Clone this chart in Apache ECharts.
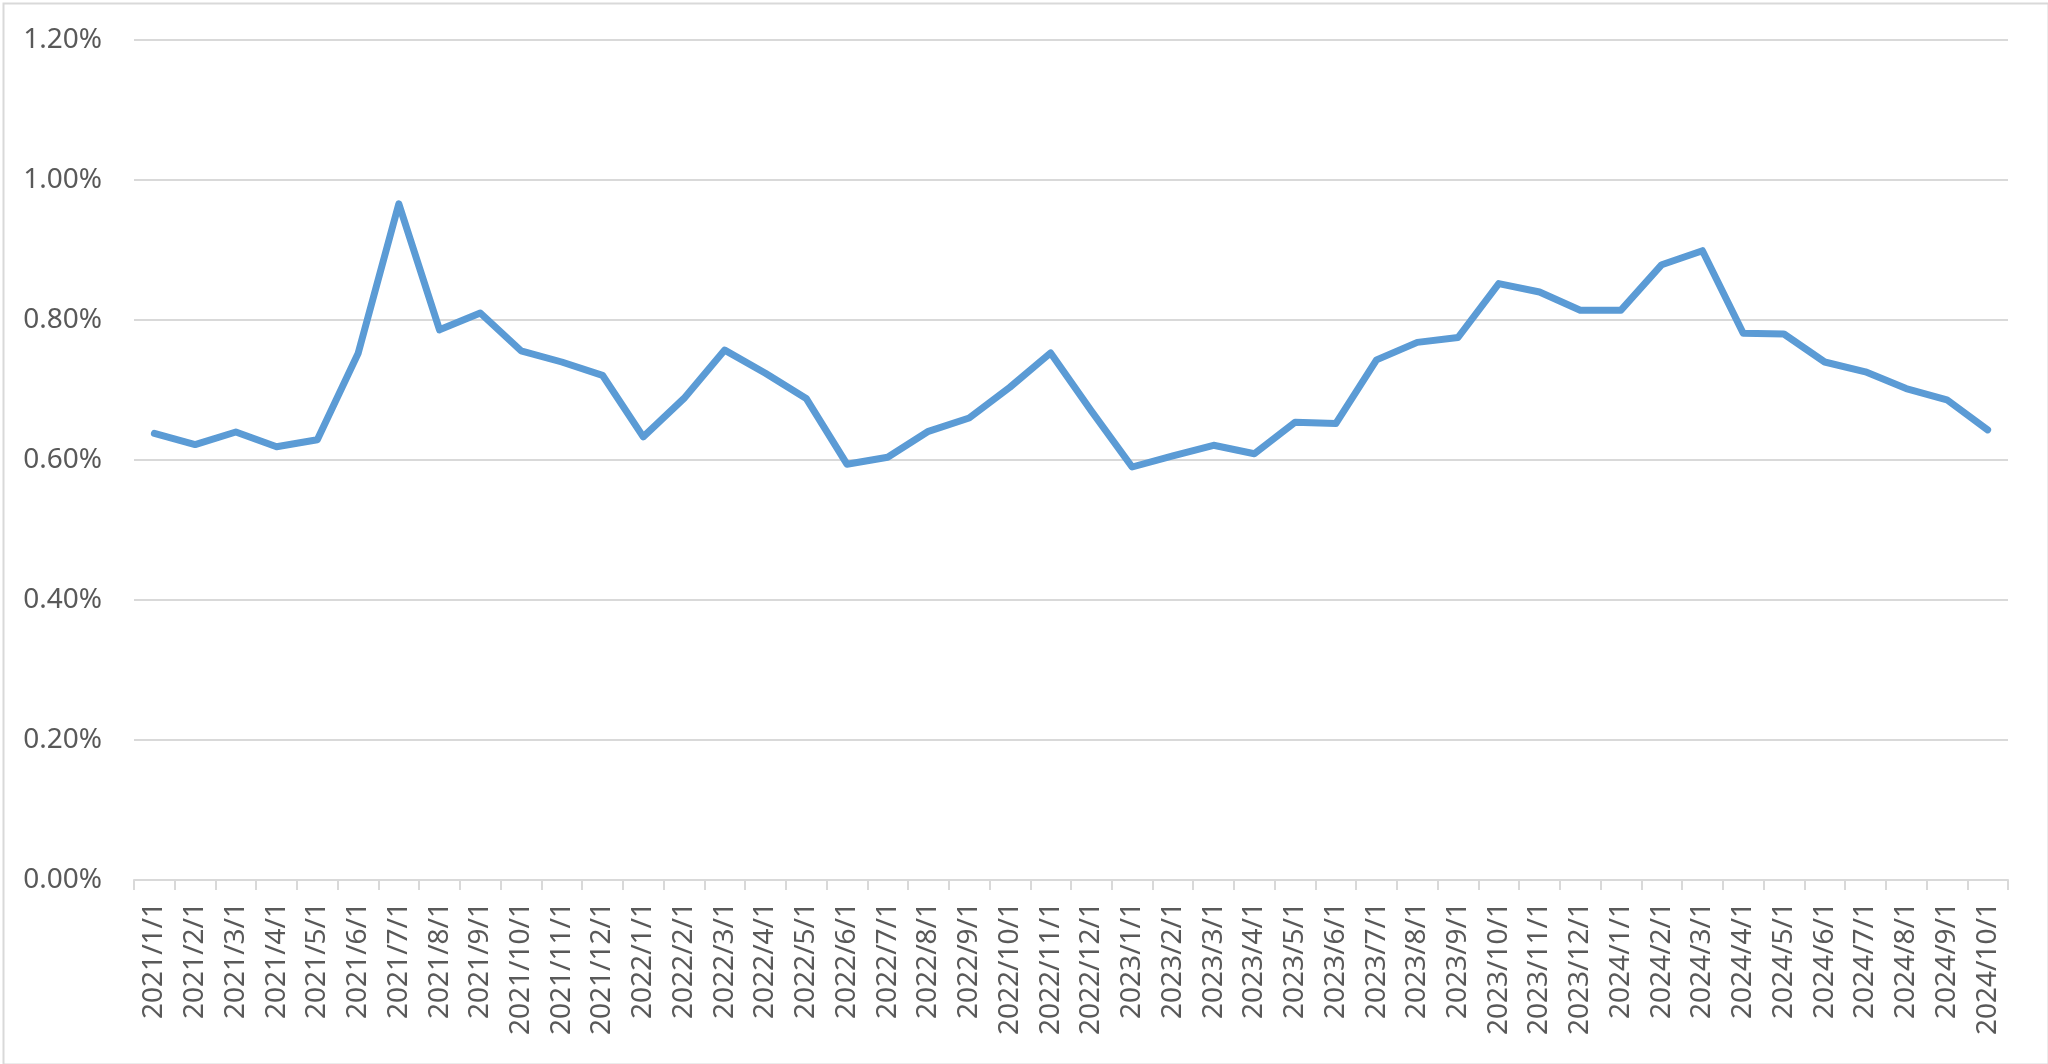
<!DOCTYPE html>
<html>
<head>
<meta charset="utf-8">
<script src="https://cdn.jsdelivr.net/npm/echarts@6/dist/echarts.min.js"></script>
<style>
html,body{margin:0;padding:0;background:#fff;}
#chart{width:2048px;height:1064px;}
</style>
</head>
<body>
<div id="chart"></div>
<script>
const categories = [
  '2021/1/1','2021/2/1','2021/3/1','2021/4/1','2021/5/1','2021/6/1','2021/7/1','2021/8/1','2021/9/1','2021/10/1','2021/11/1','2021/12/1',
  '2022/1/1','2022/2/1','2022/3/1','2022/4/1','2022/5/1','2022/6/1','2022/7/1','2022/8/1','2022/9/1','2022/10/1','2022/11/1','2022/12/1',
  '2023/1/1','2023/2/1','2023/3/1','2023/4/1','2023/5/1','2023/6/1','2023/7/1','2023/8/1','2023/9/1','2023/10/1','2023/11/1','2023/12/1',
  '2024/1/1','2024/2/1','2024/3/1','2024/4/1','2024/5/1','2024/6/1','2024/7/1','2024/8/1','2024/9/1','2024/10/1'
];
// values in percent
const values = [
  0.638,0.622,0.640,0.619,0.629,0.752,0.966,0.786,0.810,0.756,0.740,0.721,
  0.633,0.688,0.757,0.724,0.688,0.594,0.604,0.641,0.660,0.704,0.753,0.670,
  0.590,0.606,0.621,0.609,0.654,0.652,0.743,0.768,0.775,0.852,0.840,0.814,
  0.814,0.879,0.899,0.781,0.780,0.740,0.726,0.702,0.686,0.643
];
const yTicks = [0, 0.2, 0.4, 0.6, 0.8, 1.0, 1.2];

const chart = echarts.init(document.getElementById('chart'), null, {renderer:'canvas'});
const font = '"Noto Sans", "Open Sans", sans-serif';
chart.setOption({
  backgroundColor: '#ffffff',
  animation: false,
  graphic: [{
    type: 'rect', left: 1, top: 1,
    shape: {x: 0, y: 0, width: 2045, height: 1061},
    style: {fill: 'none', stroke: '#d9d9d9', lineWidth: 2},
    silent: true
  }],
  grid: {left: 134, right: 40, top: 40, bottom: 184, outerBoundsMode: 'none', containLabel: false},
  xAxis: {
    type: 'category',
    data: categories,
    boundaryGap: true,
    axisLine: {show: true, lineStyle: {color: '#d9d9d9', width: 2}},
    axisTick: {show: true, length: 10, lineStyle: {color: '#d9d9d9', width: 2}, alignWithLabel: false, interval: 0},
    axisLabel: {interval: 0, rotate: 90, margin: 22, color: '#595959', fontSize: 28, fontFamily: font},
    splitLine: {show: false}
  },
  yAxis: {
    type: 'value',
    min: yTicks[0], max: yTicks[yTicks.length-1], interval: 0.2,
    axisLine: {show: false},
    axisTick: {show: false},
    axisLabel: {margin: 32, color: '#595959', fontSize: 28, fontFamily: font,
      formatter: v => v.toFixed(2) + '%'},
    splitLine: {show: true, lineStyle: {color: '#d9d9d9', width: 2}}
  },
  series: [{
    type: 'line',
    data: values,
    showSymbol: false,
    symbol: 'none',
    smooth: false,
    lineStyle: {color: '#5b9bd5', width: 7, cap: 'round', join: 'round'},
    itemStyle: {color: '#5b9bd5'}
  }]
});
</script>
</body>
</html>
